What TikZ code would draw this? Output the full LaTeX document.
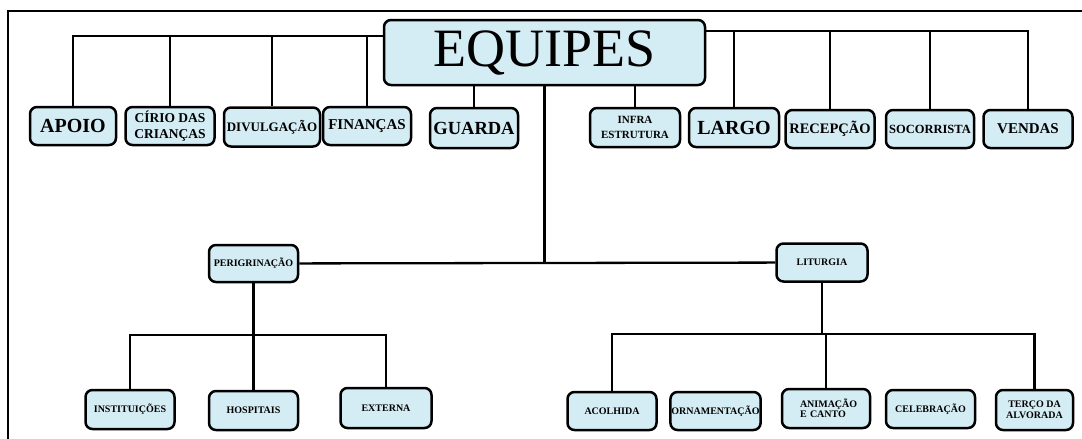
\documentclass[tikz,border=0pt]{standalone}
\usepackage{fontspec}
\setmainfont{Liberation Serif}
\usepackage{xcolor}
\usetikzlibrary{positioning}
\definecolor{boxblue}{RGB}{212,236,243}

\begin{document}
\begin{tikzpicture}[
  x=1pt, y=-1pt,
  box/.style={draw, fill=boxblue, rounded corners=7pt, line width=2.5pt,
    minimum width=89pt, minimum height=39pt, inner sep=1pt, align=center},
  link/.style={line width=2.3pt},
  fa/.style={font=\bfseries\fontsize{20}{22}\selectfont},
  fb/.style={font=\bfseries\fontsize{15}{17}\selectfont},
  fc/.style={font=\bfseries\fontsize{12.5}{16}\selectfont},
  fd/.style={font=\bfseries\fontsize{10}{10.5}\selectfont}
]
  \useasboundingbox (0,0) rectangle (1082,439);
  % frame
  \draw[line width=2pt] (1082,11) -- (8,11) -- (8,439);

  % main box
  \node[box, minimum width=321pt, minimum height=65pt,
    font=\fontsize{54}{54}\selectfont] (equipes) at (544.5,52.5) {EQUIPES};

  % top row
  \node[box, fa, minimum width=86pt, minimum height=38pt] (apoio) at (73,126) {APOIO};
  \node[box, font=\bfseries\fontsize{13.5}{16}\selectfont, minimum height=38pt] (cirio) at (170,126) {CÍRIO DAS\\CRIANÇAS};
  \node[box, font=\bfseries\fontsize{13}{14}\selectfont, minimum width=96pt] (divulg) at (272,127) {DIVULGAÇÃO};
  \node[box, fb, minimum width=88pt, minimum height=38pt] (financas) at (367,126) {FINANÇAS};
  \node[box, font=\bfseries\fontsize{18.5}{20}\selectfont, minimum width=88pt, minimum height=40pt] (guarda) at (474,128) {GUARDA};
  \node[box, font=\bfseries\fontsize{11}{15}\selectfont, minimum width=90pt] (infra) at (635,127.5) {INFRA\\ESTRUTURA};
  \node[box, fa, minimum width=90pt] (largo) at (734,127.5) {LARGO};
  \node[box, font=\bfseries\fontsize{14.5}{16}\selectfont, minimum height=38pt] (recepcao) at (830,129) {RECEPÇÃO};
  \node[box, fc, minimum width=88pt, minimum height=38pt] (socorrista) at (930,129) {SOCORRISTA};
  \node[box, fb, minimum height=38pt] (vendas) at (1028,129) {VENDAS};

  % middle row
  \node[box, fd, minimum height=37pt] (perig) at (253.5,263.5) {PERIGRINAÇÃO};
  \node[box, fd, minimum width=91pt, minimum height=38pt] (liturgia) at (822,262.5) {LITURGIA};

  % bottom row
  \node[box, fd] (instituicoes) at (130,409.5) {INSTITUIÇÕES};
  \node[box, fd] (hospitais) at (253.5,410.5) {HOSPITAIS};
  \node[box, fd, minimum width=91pt, minimum height=40pt] (externa) at (386,408) {EXTERNA};
  \node[box, fd, minimum height=38pt] (acolhida) at (612,411) {ACOLHIDA};
  \node[box, fd, minimum height=38pt] (ornamentacao) at (715.5,411) {ORNAMENTAÇÃO};
  \node[box, fd, minimum width=88pt, align=left, text width=52pt, inner xsep=18pt] (animacao) at (826,408.5) {ANIMAÇÃO\\E CANTO};
  \node[box, fd, minimum height=38pt] (celebracao) at (930.5,409) {CELEBRAÇÃO};
  \node[box, fd, minimum width=77pt, minimum height=40pt] (terco) at (1034.5,410) {TERÇO DA\\ALVORADA};

  % buses
  \coordinate (busL) at (0,36);
  \coordinate (busR) at (0,31);
  \coordinate (perbus) at (0,335);
  \coordinate (litbus) at (0,334);

  % top connectors
  \draw[link] (equipes.west |- busL) -| (apoio);
  \foreach \n in {cirio, divulg, financas}
    \draw[link] (\n |- busL) -- (\n);
  \draw[link] (equipes.east |- busR) -| (vendas);
  \foreach \n in {largo, recepcao, socorrista}
    \draw[link] (\n |- busR) -- (\n);
  \foreach \n in {guarda, infra}
    \draw[link] (\n) -- (\n |- equipes.south);

  % middle connectors
  \draw[link] (equipes) -- (equipes |- perig);
  \draw[link] (perig) -- (liturgia);

  % bottom connectors
  \draw[link] (perig) -- (perig |- perbus);
  \draw[link] (instituicoes) |- (externa |- perbus) -- (externa);
  \draw[link] (hospitais) -- (hospitais |- perbus);
  \draw[link] (liturgia) -- (liturgia |- litbus);
  \draw[link] (acolhida) |- (terco |- litbus) -- (terco);
  \draw[link] (animacao) -- (animacao |- litbus);
\end{tikzpicture}
\end{document}
